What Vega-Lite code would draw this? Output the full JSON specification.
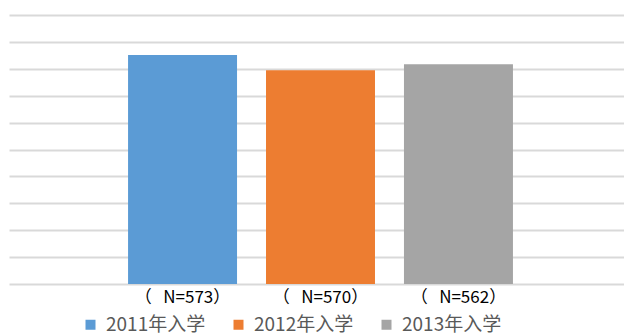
{
  "$schema": "https://vega.github.io/schema/vega-lite/v6.json",
  "autosize": {"type": "none"},
  "width": 623,
  "height": 269,
  "padding": {"left": 9, "top": 15, "right": 0, "bottom": 51},
  "background": "#ffffff",
  "config": {"view": {"stroke": null}},
  "data": {
    "values": [
      {"cohort": "2011年入学", "label": "（\u00a0\u00a0\u00a0N=573）", "value": 0.851},
      {"cohort": "2012年入学", "label": "（\u00a0\u00a0\u00a0N=570）", "value": 0.795},
      {"cohort": "2013年入学", "label": "（\u00a0\u00a0\u00a0N=562）", "value": 0.817}
    ]
  },
  "mark": {"type": "bar"},
  "encoding": {
    "x": {
      "field": "label",
      "type": "nominal",
      "sort": null,
      "scale": {"paddingInner": 0.21, "paddingOuter": 0.863},
      "axis": {
        "title": null,
        "labelAngle": 0,
        "domain": false,
        "ticks": false,
        "labelPadding": 5,
        "labelFont": "Noto Sans CJK SC",
        "labelFontSize": 17,
        "labelColor": "#000000"
      }
    },
    "y": {
      "field": "value",
      "type": "quantitative",
      "scale": {"domain": [0, 1], "nice": false},
      "axis": {
        "title": null,
        "labels": false,
        "ticks": false,
        "domain": false,
        "values": [0, 0.1, 0.2, 0.3, 0.4, 0.5, 0.6, 0.7, 0.8, 0.9, 1.0],
        "gridColor": "#d9d9d9",
        "gridWidth": 2,
        "gridOpacity": 1
      }
    },
    "color": {
      "field": "cohort",
      "type": "nominal",
      "scale": {"range": ["#5b9bd5", "#ed7d31", "#a5a5a5"]},
      "legend": {
        "title": null,
        "orient": "none",
        "legendX": 72,
        "legendY": 300,
        "direction": "horizontal",
        "symbolType": "square",
        "symbolSize": 100,
        "symbolStrokeWidth": 0,
        "labelFont": "Noto Sans CJK SC",
        "labelFontSize": 19,
        "labelColor": "#595959",
        "labelOffset": 6,
        "columnPadding": 23,
        "padding": 0
      }
    }
  }
}
